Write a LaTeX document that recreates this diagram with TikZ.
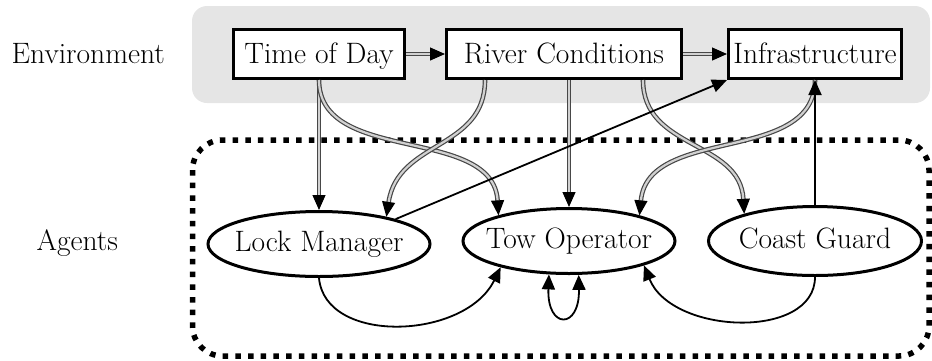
\documentclass[tikz,border=0pt]{standalone}
\usetikzlibrary{arrows.meta,shapes.geometric}

\tikzset{
  headtip/.tip={Triangle[length=15pt,width=13pt,color=black]},
  tip/.style={-headtip},
  envbox/.style={draw, line width=3pt, fill=white, inner sep=0pt,
    minimum height=49pt, text height=19pt, text depth=1pt},
  agent/.style={ellipse, draw, line width=3pt, fill=white, inner sep=0pt,
    minimum height=65pt, text height=18pt, text depth=3.5pt},
  envedge/.style={tip, draw=black!72, double=black!18, line width=1.2pt,
    double distance=2.2pt},
  agentedge/.style={tip, draw=black, line width=1.8pt},
  lbl/.style={anchor=base west, inner sep=0pt}
}

\begin{document}
\begin{tikzpicture}[x=1pt, y=-1pt, font=\fontsize{29.5}{35}\selectfont]
  \useasboundingbox (0,0) rectangle (932,360);

  % group frames
  \fill[black!10, rounded corners=15pt] (192,6) rectangle (930,103);
  \draw[line width=5.5pt, dash pattern=on 5.5pt off 7.2pt, rounded corners=30pt]
    (192.5,140) rectangle (929,356);

  % group labels
  \node[lbl] (envlabel) at (11.5,63) {Environment};
  \node[lbl] (agentlabel) at (36.5,250) {Agents};

  % environment
  \node[envbox, minimum width=171pt] (tod)   at (319,54) {Time of Day};
  \node[envbox, minimum width=235pt] (river) at (564,54) {River Conditions};
  \node[envbox, minimum width=173pt] (infra) at (815,54) {Infrastructure};

  % agents
  \node[agent, minimum width=222pt] (lm)  at (319,244) {\makebox[0pt]{Lock Manager}};
  \node[agent, minimum width=212pt] (tow) at (569,241) {\makebox[0pt]{Tow Operator}};
  \node[agent, minimum width=213pt, minimum height=69pt] (cg) at (815,241) {\makebox[0pt]{Coast Guard}};

  % environment influences
  \draw[envedge] (tod.east) -- (river.west);
  \draw[envedge] (river.east) -- (infra.west);
  \draw[envedge] (tod.south) -- (lm.north);
  \draw[envedge] (tod.south) .. controls (319,165) and (493,125) .. (tow.160);
  \draw[envedge] ([xshift=-79pt]river.south) .. controls (485,150) and (398,140) .. (lm.22);
  \draw[envedge] (river.south -| tow.north) -- (tow.north);
  \draw[envedge] ([xshift=79pt]river.south) .. controls (643,150) and (740,140) .. (cg.159);
  \draw[envedge] (infra.south) .. controls (815,165) and (648,125) .. (tow.20);

  % agent actions
  \draw[agentedge] (lm.18) -- (infra.south west);
  \draw[agentedge] (cg.north) -- (infra.south);
  \draw[agentedge] (lm.south) .. controls (325,345) and (465,340) .. (tow.201);
  \draw[agentedge] (cg.south) .. controls (815,340) and (672,335) .. (tow.342);
  \draw[agentedge, headtip-headtip]
    (tow.239) .. controls +(-2,55) and +(1,55) .. (tow.286);
\end{tikzpicture}
\end{document}
